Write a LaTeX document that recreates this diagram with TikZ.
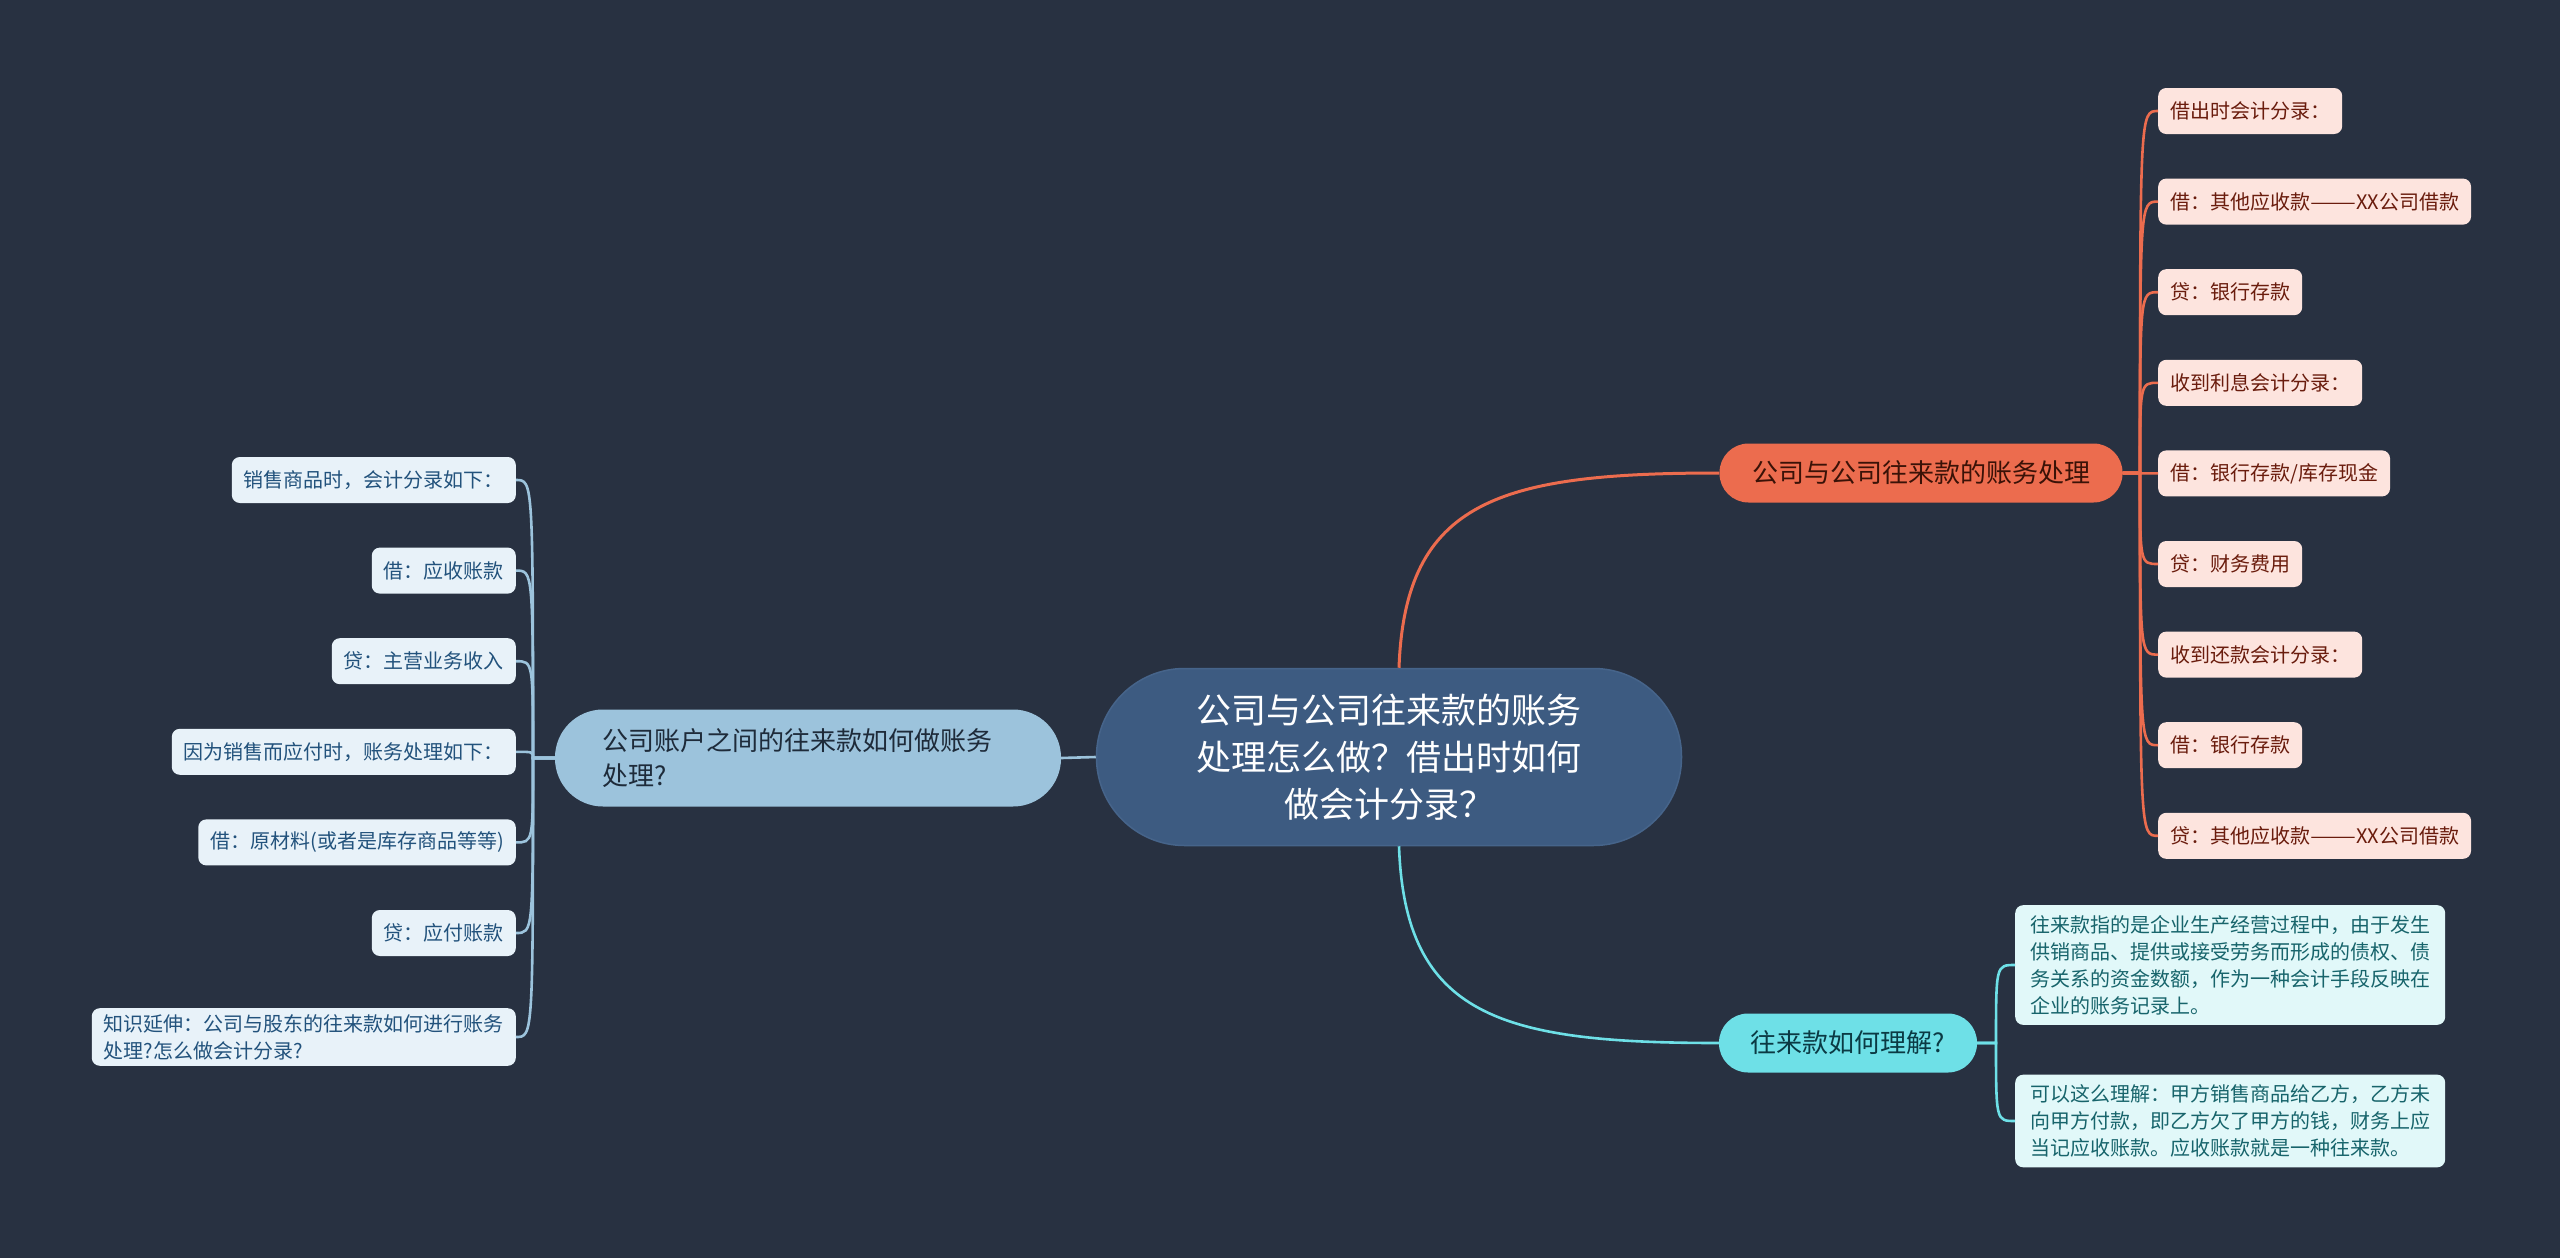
\documentclass[tikz,border=0pt]{standalone}
\usepackage{fontspec}
\usepackage{graphicx}
\setmainfont{Noto Sans CJK SC}
\definecolor{bg}{HTML}{283141}
\definecolor{cfill}{HTML}{3D5B81}
\definecolor{cdraw}{HTML}{46648A}
\definecolor{lfill}{HTML}{9CC3DC}
\definecolor{ltext}{HTML}{1E2B3A}
\definecolor{lline}{HTML}{9CC3DC}
\definecolor{lcfill}{HTML}{E8F2F9}
\definecolor{lctext}{HTML}{22527C}
\definecolor{ofill}{HTML}{EC6C4E}
\definecolor{otext}{HTML}{3A1207}
\definecolor{ocfill}{HTML}{FDE4DE}
\definecolor{octext}{HTML}{6A1C0D}
\definecolor{tfill}{HTML}{6EE0E7}
\definecolor{ttext}{HTML}{0B3A44}
\definecolor{tcfill}{HTML}{E1F8F9}
\definecolor{tctext}{HTML}{17646B}
\newcommand{\longdash}{\scalebox{1.37}[1]{——}}
\tikzset{
  mainbox/.style={rounded corners=29pt, minimum height=59pt, inner xsep=0pt, inner ysep=0pt, font=\fontsize{26}{35}\selectfont},
  leafbox/.style={rounded corners=8pt, minimum height=46pt, inner xsep=12pt, inner ysep=6pt, font=\fontsize{20}{27}\selectfont},
  olink/.style={draw=ofill, line width=3pt},
  llink/.style={draw=lline, line width=2.6pt},
  tlink/.style={draw=tfill, line width=2.6pt},
}
\begin{document}
\begin{tikzpicture}[x=1pt,y=-1pt]
\fill[bg] (0,0) rectangle (2560,1258);
\useasboundingbox (0,0) rectangle (2560,1258);

% central
\node[fill=cfill, draw=cdraw, line width=1.5pt, rounded corners=88pt, minimum width=585pt, minimum height=177pt,
  text=white, align=center, font=\fontsize{35}{47}\selectfont] (c) at (1389,757)
  {公司与公司往来款的账务\\处理怎么做？借出时如何\\做会计分录？};

% main branches
\node[mainbox, fill=lfill, text=ltext, rounded corners=48pt, minimum height=97pt, text width=412pt, inner xsep=47pt, align=left] (l) at (808,758)
  {公司账户之间的往来款如何做账务\\处理?};
\node[mainbox, fill=ofill, text=otext, minimum width=403pt] (o) at (1921,473) {公司与公司往来款的账务处理};
\node[mainbox, fill=tfill, text=ttext, minimum width=258pt] (t) at (1848,1043) {往来款如何理解?};

% main connectors
\draw[llink] (c.west) -- (l.east);
\draw[olink] ([xshift=10pt]c.north) .. controls (1405,500) and (1500,473) .. (o.west);
\draw[tlink] ([xshift=10pt]c.south) .. controls (1405,1016) and (1500,1043) .. (t.west);

% orange children
\begin{scope}[every node/.style={leafbox, fill=ocfill, text=octext, anchor=west}]
\node (o1) at (2158,111) {借出时会计分录：};
\node (o2) at (2158,201.6) {借：其他应收款\longdash XX公司借款};
\node (o3) at (2158,292.2) {贷：银行存款};
\node (o4) at (2158,382.8) {收到利息会计分录：};
\node (o5) at (2158,473.4) {借：银行存款/库存现金};
\node (o6) at (2158,564) {贷：财务费用};
\node (o7) at (2158,654.6) {收到还款会计分录：};
\node (o8) at (2158,745.2) {借：银行存款};
\node (o9) at (2158,835.8) {贷：其他应收款\longdash XX公司借款};
\end{scope}
\foreach \n in {o1,o2,o3,o4,o5,o6,o7,o8,o9}{
  \draw[olink, line width=2.6pt] (o.east) -- (2140,473) .. controls (2140,0|-\n.west) .. (\n.west);
}

% left children
\begin{scope}[every node/.style={leafbox, fill=lcfill, text=lctext, anchor=east}]
\node (l1) at (516,480) {销售商品时，会计分录如下：};
\node (l2) at (516,570.6) {借：应收账款};
\node (l3) at (516,661.2) {贷：主营业务收入};
\node (l4) at (516,751.8) {因为销售而应付时，账务处理如下：};
\node (l5) at (516,842.4) {借：原材料(或者是库存商品等等)};
\node (l6) at (516,933) {贷：应付账款};
\node[align=left] (l7) at (516,1037) {知识延伸：公司与股东的往来款如何进行账务\\处理?怎么做会计分录?};
\end{scope}
\foreach \n in {l1,l2,l3,l4,l5,l6,l7}{
  \draw[llink] (l.west) -- (533,758) .. controls (533,0|-\n.east) .. (\n.east);
}

% teal children
\begin{scope}[every node/.style={leafbox, fill=tcfill, text=tctext, anchor=west, align=left, inner xsep=15pt, inner ysep=10pt}]
\node (t1) at (2015,965) {往来款指的是企业生产经营过程中，由于发生\\供销商品、提供或接受劳务而形成的债权、债\\务关系的资金数额，作为一种会计手段反映在\\企业的账务记录上。};
\node (t2) at (2015,1121) {可以这么理解：甲方销售商品给乙方，乙方未\\向甲方付款，即乙方欠了甲方的钱，财务上应\\当记应收账款。应收账款就是一种往来款。};
\end{scope}
\foreach \n in {t1,t2}{
  \draw[tlink] (t.east) -- (1996,1043) .. controls (1996,0|-\n.west) .. (\n.west);
}
\end{tikzpicture}
\end{document}
